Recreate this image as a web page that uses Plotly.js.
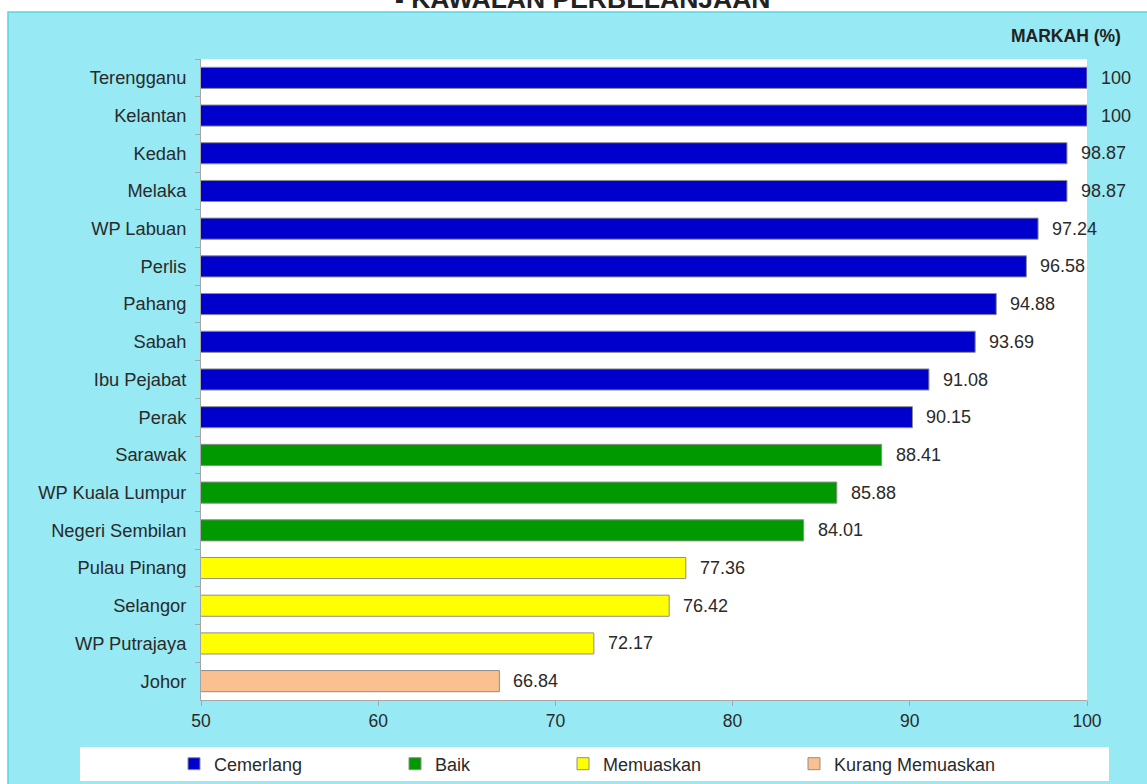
<!DOCTYPE html>
<html>
<head>
<meta charset="utf-8">
<script src="https://cdn.plot.ly/plotly-3.0.1.min.js"></script>
<style>html,body{margin:0;padding:0;background:#fff;}#chart{width:1147px;height:784px;}</style>
</head>
<body>
<div id="chart"></div>
<script>
// ---- data ----
const categories = ["Terengganu","Kelantan","Kedah","Melaka","WP Labuan","Perlis","Pahang","Sabah","Ibu Pejabat","Perak","Sarawak","WP Kuala Lumpur","Negeri Sembilan","Pulau Pinang","Selangor","WP Putrajaya","Johor"];
const scores = [100,100,98.87,98.87,97.24,96.58,94.88,93.69,91.08,90.15,88.41,85.88,84.01,77.36,76.42,72.17,66.84];
const grades = ["Cemerlang","Cemerlang","Cemerlang","Cemerlang","Cemerlang","Cemerlang","Cemerlang","Cemerlang","Cemerlang","Cemerlang","Baik","Baik","Baik","Memuaskan","Memuaskan","Memuaskan","Kurang Memuaskan"];
const gradeNames = ["Cemerlang","Baik","Memuaskan","Kurang Memuaskan"];
const gradeColors = ["#0000CC","#009900","#FFFF00","#FAC090"];
const xTicks = [50,60,70,80,90,100];
const titleText = "- KAWALAN PERBELANJAAN";
const unitText = "MARKAH (%)";

// ---- layout constants ----
const W = 1147, H = 784;
const L = 201, R = 60, T = 59, B = 84;
const pw = W - L - R, ph = H - T - B;
const px = v => (v - L) / pw;            // pixel x -> paper x
const py = v => (H - B - v) / ph;        // pixel y -> paper y
const FONT = "Liberation Sans, Arial, sans-serif";
const TXT = "#2a2a2a";

const legendNames = ["legend","legend2","legend3","legend4"];
const legendTextStart = [214, 435, 603, 834];

const traces = gradeNames.map((g, gi) => {
  const idx = grades.map((gr, i) => gr === g ? i : -1).filter(i => i >= 0);
  return {
    type: "bar",
    orientation: "h",
    name: g,
    legend: legendNames[gi],
    y: idx.map(i => categories[i]),
    x: idx.map(i => scores[i]),
    base: 0,
    marker: {color: gradeColors[gi], line: {color: "#8E8E8E", width: 1}},
    hoverinfo: "x+y"
  };
});

const labelAnns = categories.map((c, i) => ({
  x: scores[i], y: c, xref: "x", yref: "y",
  text: String(scores[i]), showarrow: false,
  xanchor: "left", yanchor: "middle", xshift: 12,
  font: {family: FONT, size: 18, color: TXT}
}));

const layout = {
  width: W, height: H,
  margin: {l: L, r: R, t: T, b: B, pad: 0, autoexpand: false},
  paper_bgcolor: "#ffffff",
  plot_bgcolor: "rgba(0,0,0,0)",
  barmode: "overlay",
  bargap: 0.44,
  font: {family: FONT, size: 18, color: TXT},
  xaxis: {
    range: [50, 100], tickvals: xTicks, ticktext: xTicks.map(String),
    showgrid: false, zeroline: false, showline: true,
    linecolor: "#A6A6A6", linewidth: 1,
    ticks: "outside", ticklen: 5, tickcolor: "#A6A6A6",
    tickfont: {family: FONT, size: 17.5, color: TXT},
    automargin: false,
    fixedrange: true
  },
  yaxis: {
    type: "category", categoryorder: "array", categoryarray: categories,
    autorange: "reversed",
    showgrid: false, zeroline: false, showline: true,
    linecolor: "#A6A6A6", linewidth: 1,
    ticks: "outside", ticklen: 5, tickcolor: "#A6A6A6", tickson: "boundaries",
    ticklabelstandoff: 10,
    tickfont: {family: FONT, size: 18.3, color: TXT},
    automargin: false,
    fixedrange: true
  },
  shapes: [
    {type: "rect", xref: "paper", yref: "paper", layer: "below",
     x0: px(8), x1: px(W + 20), y0: py(H + 20), y1: py(12),
     fillcolor: "#97E9F3", line: {color: "#5ED3E0", width: 1.5}},
    {type: "rect", xref: "paper", yref: "paper", layer: "below",
     x0: 0, x1: 1, y0: 0, y1: 1, fillcolor: "#ffffff", line: {width: 0}},
    {type: "rect", xref: "paper", yref: "paper", layer: "below",
     x0: px(80), x1: px(1109), y0: py(781), y1: py(747),
     fillcolor: "#ffffff", line: {width: 0}}
  ],
  annotations: [
    {xref: "paper", yref: "paper", x: px(582), y: py(-1), xanchor: "center", yanchor: "middle",
     text: "<b>" + titleText + "</b>", showarrow: false,
     font: {family: FONT, size: 26.5, color: "#222222"}},
    {xref: "paper", yref: "paper", x: px(1123), y: py(36), xanchor: "right", yanchor: "middle",
     text: "<b>" + unitText + "</b>", showarrow: false,
     font: {family: FONT, size: 17.5, color: "#222222"}}
  ].concat(labelAnns),
  showlegend: true
};

legendNames.forEach((ln, i) => {
  layout[ln] = {
    x: px(legendTextStart[i] - 40), y: py(764),
    xanchor: "left", yanchor: "middle",
    orientation: "h", bgcolor: "rgba(0,0,0,0)", borderwidth: 0,
    font: {family: FONT, size: 18, color: TXT}
  };
});

Plotly.newPlot("chart", traces, layout, {displayModeBar: false, staticPlot: true});
</script>
</body>
</html>
